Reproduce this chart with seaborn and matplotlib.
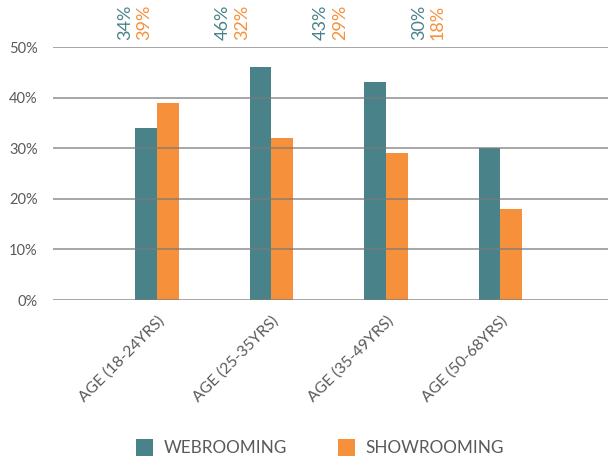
import matplotlib
matplotlib.use("Agg")
import matplotlib.pyplot as plt
import seaborn as sns
import pandas as pd
from matplotlib.patches import Patch

categories = ["AGE (18-24YRS)", "AGE (25-35YRS)", "AGE (35-49YRS)", "AGE (50-68YRS)"]
webrooming = [34, 46, 43, 30]
showrooming = [39, 32, 29, 18]
series = ["WEBROOMING", "SHOWROOMING"]
colors = ["#4A828A", "#F6903A"]
yticks = [0, 10, 20, 30, 40, 50]

df = pd.DataFrame({
    "cat": categories * 2,
    "val": webrooming + showrooming,
    "series": [series[0]] * 4 + [series[1]] * 4,
})

sns.set_style("white")
plt.rcParams["font.family"] = ["Lato", "DejaVu Sans"]
text_color = "#5a5a5a"

fig = plt.figure(figsize=(6.12, 4.57), dpi=100)
ax = fig.add_axes([0.0866, 0.3435, 0.907, 0.5535])

sns.barplot(data=df, x="cat", y="val", hue="series", palette=colors,
            width=0.38, gap=0, saturation=1, ax=ax, legend=False, linewidth=0)

ax.set_ylim(0, 50)
ax.set_xlim(-0.908, 3.94)
ax.set_yticks(yticks)
ax.set_yticklabels([f"{t}%" for t in yticks], fontsize=10.5, color=text_color)
ax.yaxis.grid(True, color="#7a7a7a", linewidth=1.1, alpha=0.85)
ax.set_axisbelow(False)
ax.tick_params(axis="y", length=0, pad=11)
ax.tick_params(axis="x", length=0, pad=10)
for lab in ax.get_xticklabels():
    lab.set_rotation(45)
    lab.set_ha("right")
    lab.set_rotation_mode("anchor")
    lab.set_fontsize(11.3)
    lab.set_color(text_color)
ax.set_xlabel("")
ax.set_ylabel("")
for s in ax.spines.values():
    s.set_visible(False)

# rotated value labels above the plot
for i, (w, s) in enumerate(zip(webrooming, showrooming)):
    x0 = -0.28 + i * 0.856
    ax.text(x0, 51.4, f"{w}%", rotation=90, ha="center", va="bottom",
            fontsize=13, color=colors[0], clip_on=False)
    ax.text(x0 + 0.165, 51.4, f"{s}%", rotation=90, ha="center", va="bottom",
            fontsize=13, color=colors[1], clip_on=False)

handles = [Patch(facecolor=c, edgecolor="none") for c in colors]
fig.legend(handles, series, loc="lower center", bbox_to_anchor=(0.523, -0.032),
           ncol=2, frameon=False, fontsize=12.3, labelcolor=text_color,
           handlelength=1.0, handleheight=1.2, columnspacing=3.0, handletextpad=0.6)

fig.savefig("out.png", dpi=100)
